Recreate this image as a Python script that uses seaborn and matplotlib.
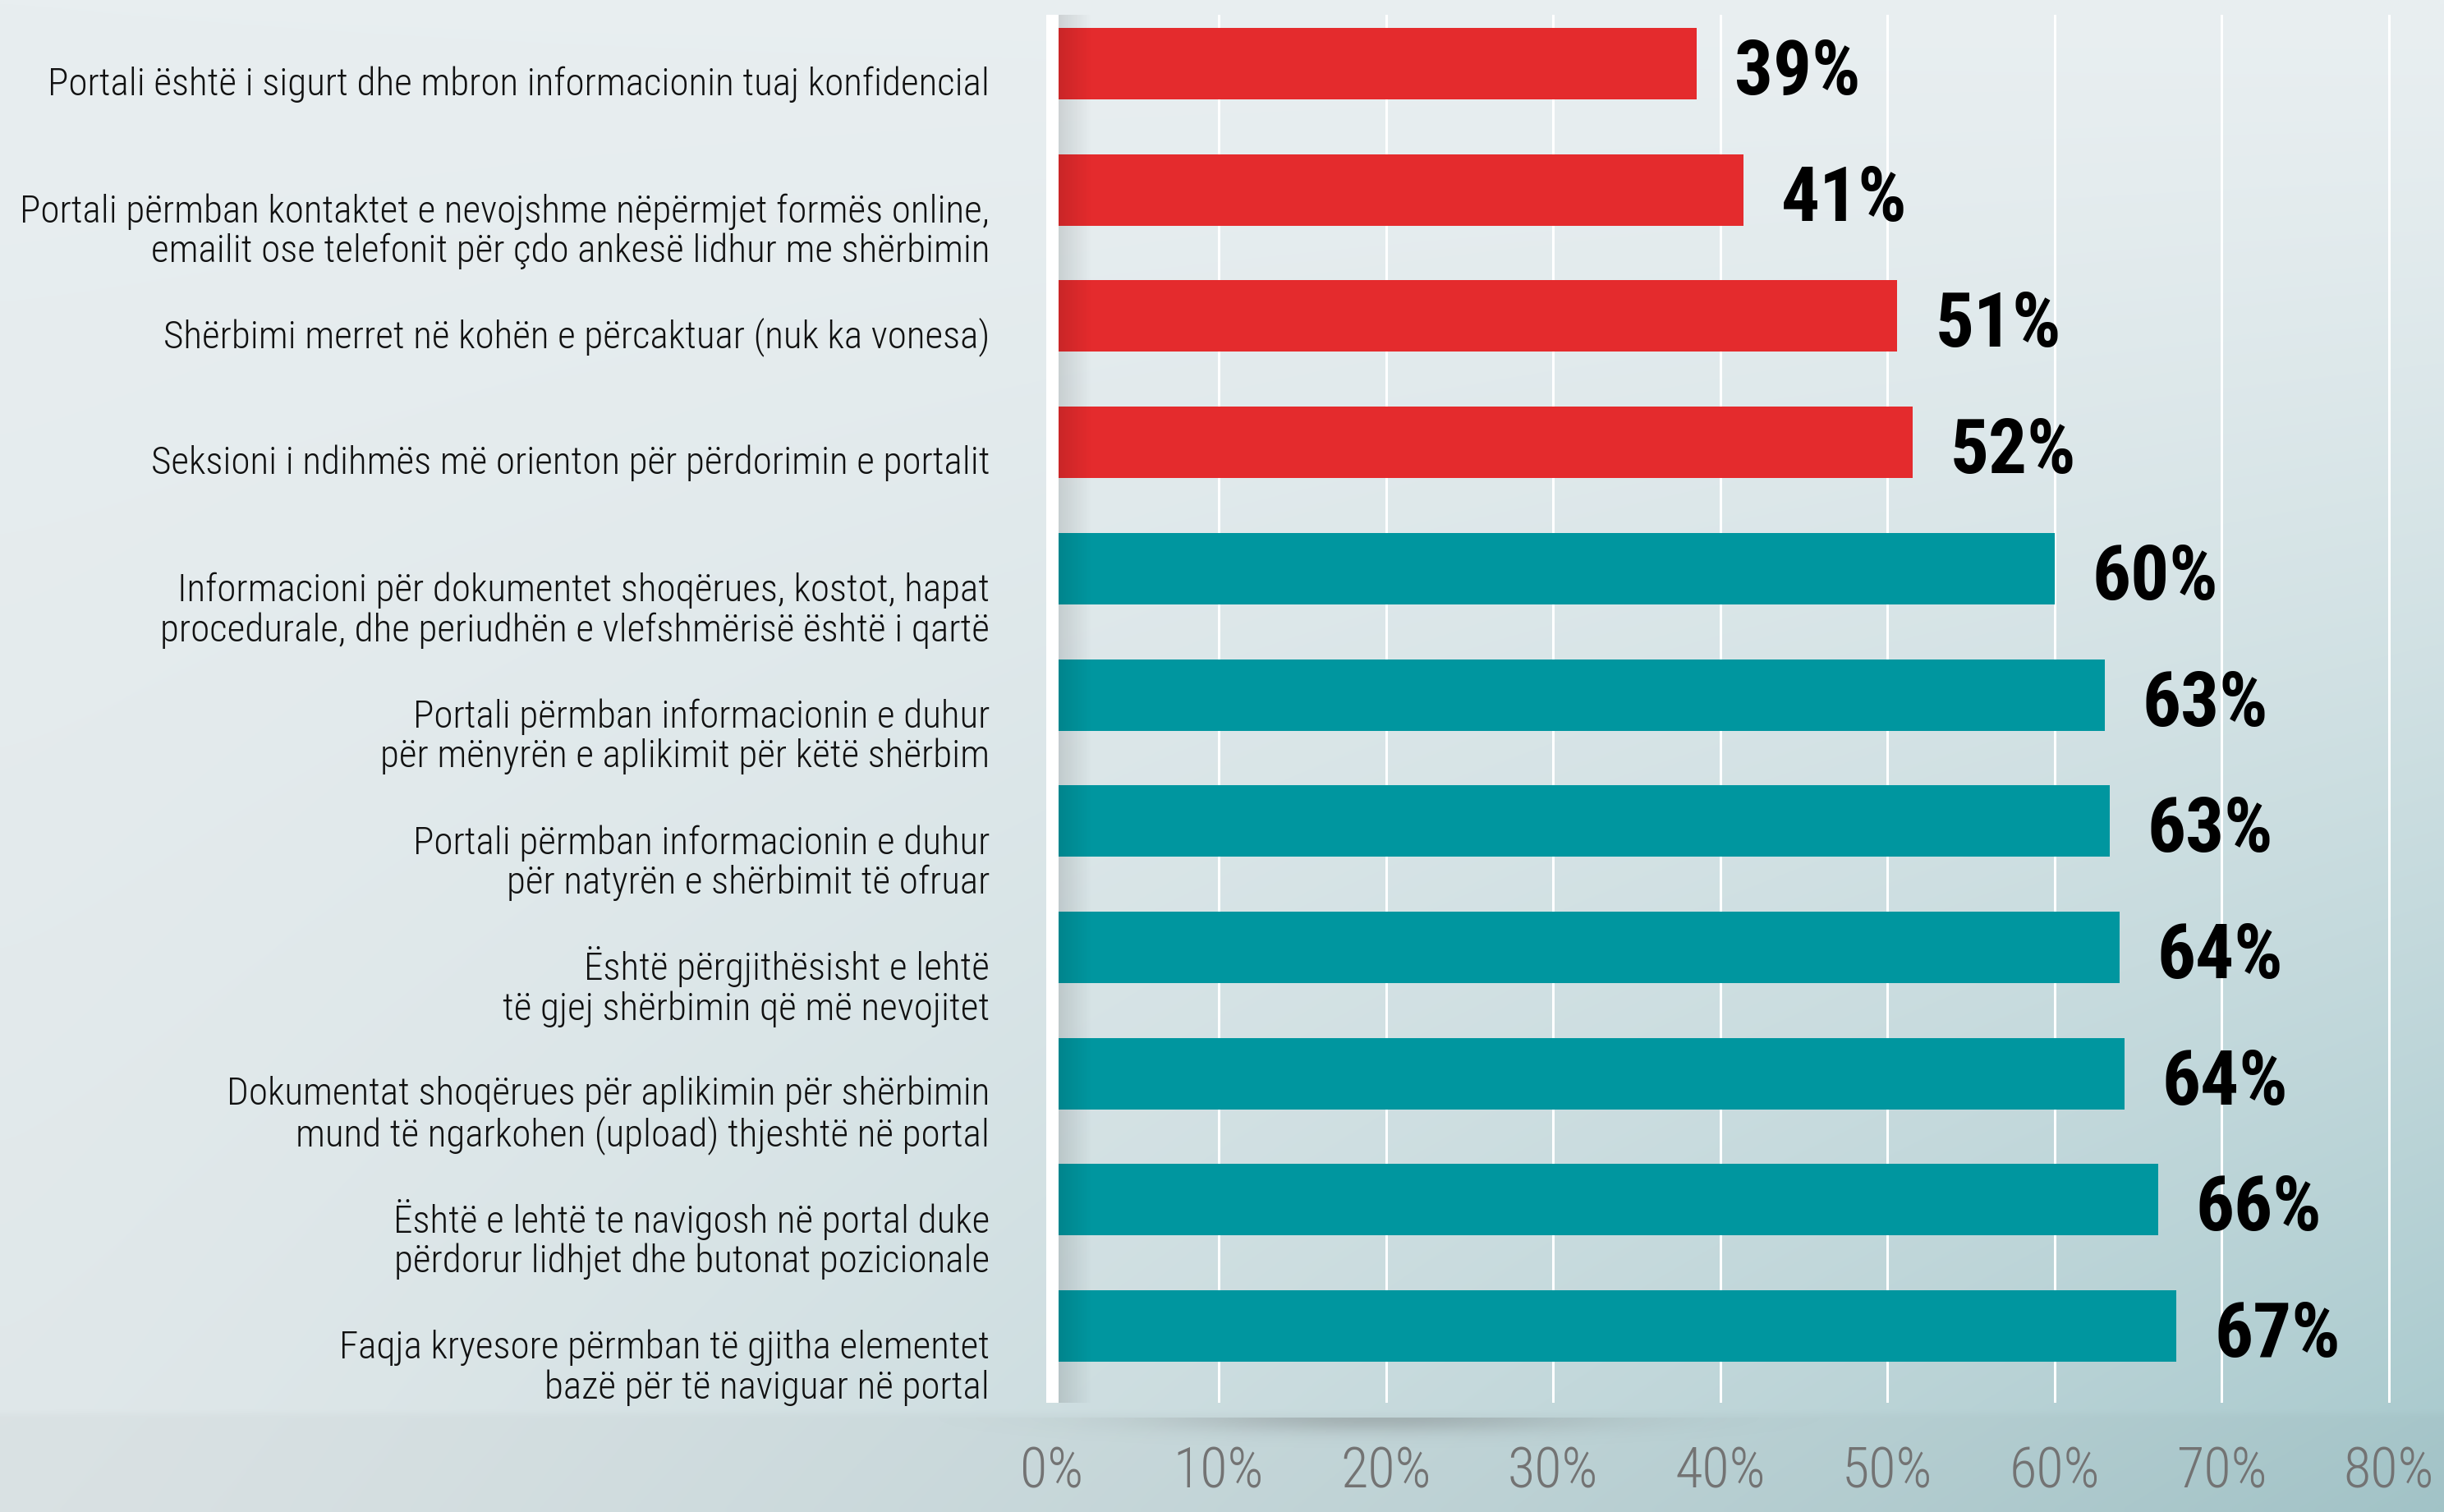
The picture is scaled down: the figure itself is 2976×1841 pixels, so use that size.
# -*- coding: utf-8 -*-
"""
Vlerësimi i portalit - grafik me shtylla horizontale (seaborn)
"""

import numpy as np
import matplotlib
matplotlib.use("Agg")
import matplotlib.pyplot as plt
import matplotlib.transforms as mtransforms
import matplotlib.font_manager as fm
import seaborn as sns

# ---- të dhënat (lexuar nga grafiku) ----
categories = [
    "Portali është i sigurt dhe mbron informacionin tuaj konfidencial",
    "Portali përmban kontaktet e nevojshme nëpërmjet formës online,\nemailit ose telefonit për çdo ankesë lidhur me shërbimin",
    "Shërbimi merret në kohën e përcaktuar (nuk ka vonesa)",
    "Seksioni i ndihmës më orienton për përdorimin e portalit",
    "Informacioni për dokumentet shoqërues, kostot, hapat\nprocedurale, dhe periudhën e vlefshmërisë është i qartë",
    "Portali përmban informacionin e duhur\npër mënyrën e aplikimit për këtë shërbim",
    "Portali përmban informacionin e duhur\npër natyrën e shërbimit të ofruar",
    "Është përgjithësisht e lehtë\ntë gjej shërbimin që më nevojitet",
    "Dokumentat shoqërues për aplikimin për shërbimin\nmund të ngarkohen (upload) thjeshtë në portal",
    "Është e lehtë te navigosh në portal duke\npërdorur lidhjet dhe butonat pozicionale",
    "Faqja kryesore përmban të gjitha elementet\nbazë për të naviguar në portal",
]
values = [38.6, 41.4, 50.6, 51.5, 60.0, 63.0, 63.3, 63.9, 64.2, 66.2, 67.3]
groups = ["nen"] * 4 + ["mbi"] * 7
xticks = [0, 10, 20, 30, 40, 50, 60, 70, 80]
xtick_labels = ["0%", "10%", "20%", "30%", "40%", "50%", "60%", "70%", "80%"]

RED = "#e42b2d"
TEAL = "#00969f"
W, H, DPI = 2976, 1841, 100
LINE_STEP = 49.4  # distanca mes rreshtave (px)


def px(v):
    """piksela -> pika"""
    return v * 72.0 / DPI


def pick_font():
    """gjej një font të ngushtë (condensed) nëse ka"""
    candidates = [
        ("Roboto Condensed", "normal"),
        ("Liberation Sans Narrow", "normal"),
        ("Noto Sans Condensed", "normal"),
        ("Noto Sans", "condensed"),
        ("DejaVu Sans", "condensed"),
    ]
    for fam, stretch in candidates:
        try:
            path = fm.findfont(fm.FontProperties(family=fam, stretch=stretch),
                               fallback_to_default=False)
        except Exception:
            continue
        if stretch == "condensed" and "condensed" not in path.lower():
            continue
        return fam, stretch
    return "Roboto", "normal"


def draw_background(fig):
    """sfondi me gradient dhe hijet"""
    bg = fig.add_axes([0, 0, 1, 1], zorder=-10)
    bg.set_axis_off()
    nx, ny = 300, 184
    xs = np.linspace(0, 1, nx)[None, :]
    ys = np.linspace(0, 1, ny)[:, None]
    tl = np.array([0xe8, 0xee, 0xf0]) / 255
    tr = np.array([0xe9, 0xef, 0xf1]) / 255
    bl = np.array([0xdf, 0xe7, 0xe9]) / 255
    br = np.array([0xa6, 0xc8, 0xcc]) / 255
    wx = xs[..., None] ** 1.3
    wy = ys[..., None] ** 1.2
    img = (tl * (1 - wx) * (1 - wy) + tr * wx * (1 - wy)
           + bl * (1 - wx) * wy + br * wx * wy)
    # pjesa poshtë panelit pak më e errët
    ypix = ys[:, 0] * H
    img[ypix > 1726] *= 0.975
    img = np.clip(img, 0, 1)
    bg.imshow(img, extent=[0, W, H, 0], aspect="auto", interpolation="bilinear")

    # hija poshtë panelit
    gx = np.linspace(0, W, 600)[None, :]
    gy = np.linspace(1726, 1800, 60)[:, None]
    a = 0.28 * np.exp(-((gx - 1680) / 260) ** 2) * np.exp(-((gy - 1726) / 18) ** 2)
    sh = np.zeros(a.shape + (4,))
    sh[..., :3] = 0.35
    sh[..., 3] = a
    bg.imshow(sh, extent=[0, W, 1800, 1726], aspect="auto", interpolation="bilinear")
    bg.set_xlim(0, W)
    bg.set_ylim(H, 0)


def fit_size(fig, texts, target_w, size, max_size):
    """shkallëzo madhësinë e shkronjave sipas gjerësisë"""
    r = fig.canvas.get_renderer()
    widest = max(t.get_window_extent(r).width for t in texts)
    return min(max_size, size * target_w / widest)


def create_chart():
    sns.set_theme(style="white")
    fam, stretch = pick_font()
    plt.rcParams["font.family"] = [fam, "DejaVu Sans"]
    plt.rcParams["font.stretch"] = stretch

    fig = plt.figure(figsize=(W / DPI, H / DPI), dpi=DPI)
    draw_background(fig)

    ax = fig.add_axes([1273 / W, (H - 1708) / H, (W - 1273) / W, (1708 - 18) / H])
    ax.patch.set_alpha(0)

    sns.barplot(x=values, y=categories, hue=groups, palette={"nen": RED, "mbi": TEAL},
                orient="h", width=0.566, dodge=False, legend=False, saturation=1,
                linewidth=0, ax=ax, zorder=2)

    # vlerat mbi shtylla
    value_texts = []
    for container in ax.containers:
        value_texts += ax.bar_label(container,
                                    labels=[f"{round(b.get_width())}%" for b in container],
                                    padding=px(46), fontsize=60, fontweight="bold",
                                    color="black")

    xmin = -7.5 / 20.35
    xmax = (W - 1280.5) / 20.35
    ylim = (10.608, -0.387)

    # hija majtas shtyllave
    grad = np.zeros((2, 100, 4))
    grad[..., 3] = np.linspace(0.14, 0, 100)[None, :]
    ax.imshow(grad, extent=[0, 2.4, ylim[0], ylim[1]], aspect="auto", zorder=2.5,
              interpolation="bilinear")

    ax.axvline(0, color="white", lw=px(15), zorder=3)
    ax.set_xlim(xmin, xmax)
    ax.set_ylim(*ylim)

    ax.set_xticks(xticks)
    ax.set_xticklabels(xtick_labels)
    ax.grid(axis="x", color="white", lw=px(3))
    ax.grid(axis="y", visible=False)
    ax.set_axisbelow(True)
    for s in ax.spines.values():
        s.set_visible(False)

    ax.tick_params(axis="x", length=0, pad=px(104), labelsize=40, labelcolor="#737373")
    ax.tick_params(axis="y", length=0, pad=px(68), labelsize=30, labelcolor="#111111")
    for lab in ax.get_yticklabels() + ax.get_xticklabels():
        lab.set_fontweight("light")

    # përshtat madhësitë sipas gjerësisë së origjinalit
    fig.canvas.draw()
    ysize = fit_size(fig, ax.get_yticklabels(), 1180, 30, 34)
    xsize = fit_size(fig, ax.get_xticklabels()[1:], 110, 40, 60)
    vsize = fit_size(fig, value_texts, 154, 60, 72)
    ax.tick_params(axis="y", labelsize=ysize)
    ax.tick_params(axis="x", labelsize=xsize)
    for lab in ax.get_xticklabels():
        lab.set_verticalalignment("baseline")
    for t in value_texts:
        t.set_fontsize(vsize)
        t.xyann = (t.xyann[0], t.xyann[1] - px(12))

    # rreshti i parë nis te mesi i shtyllës, të tjerët poshtë
    fs_px = ysize * DPI / 72.0
    for lab in ax.get_yticklabels():
        n = lab.get_text().count("\n")
        lab.set_verticalalignment("baseline")
        lab.set_linespacing(LINE_STEP / (0.98 * fs_px) * 49.4 / 47.5)
        dy = -(0.74 * fs_px + 4 + n * LINE_STEP) / DPI
        lab.set_transform(lab.get_transform()
                          + mtransforms.ScaledTranslation(0, dy, fig.dpi_scale_trans))

    ax.set_xlabel("")
    ax.set_ylabel("")
    fig.savefig("out.png", dpi=DPI)


if __name__ == "__main__":
    create_chart()
